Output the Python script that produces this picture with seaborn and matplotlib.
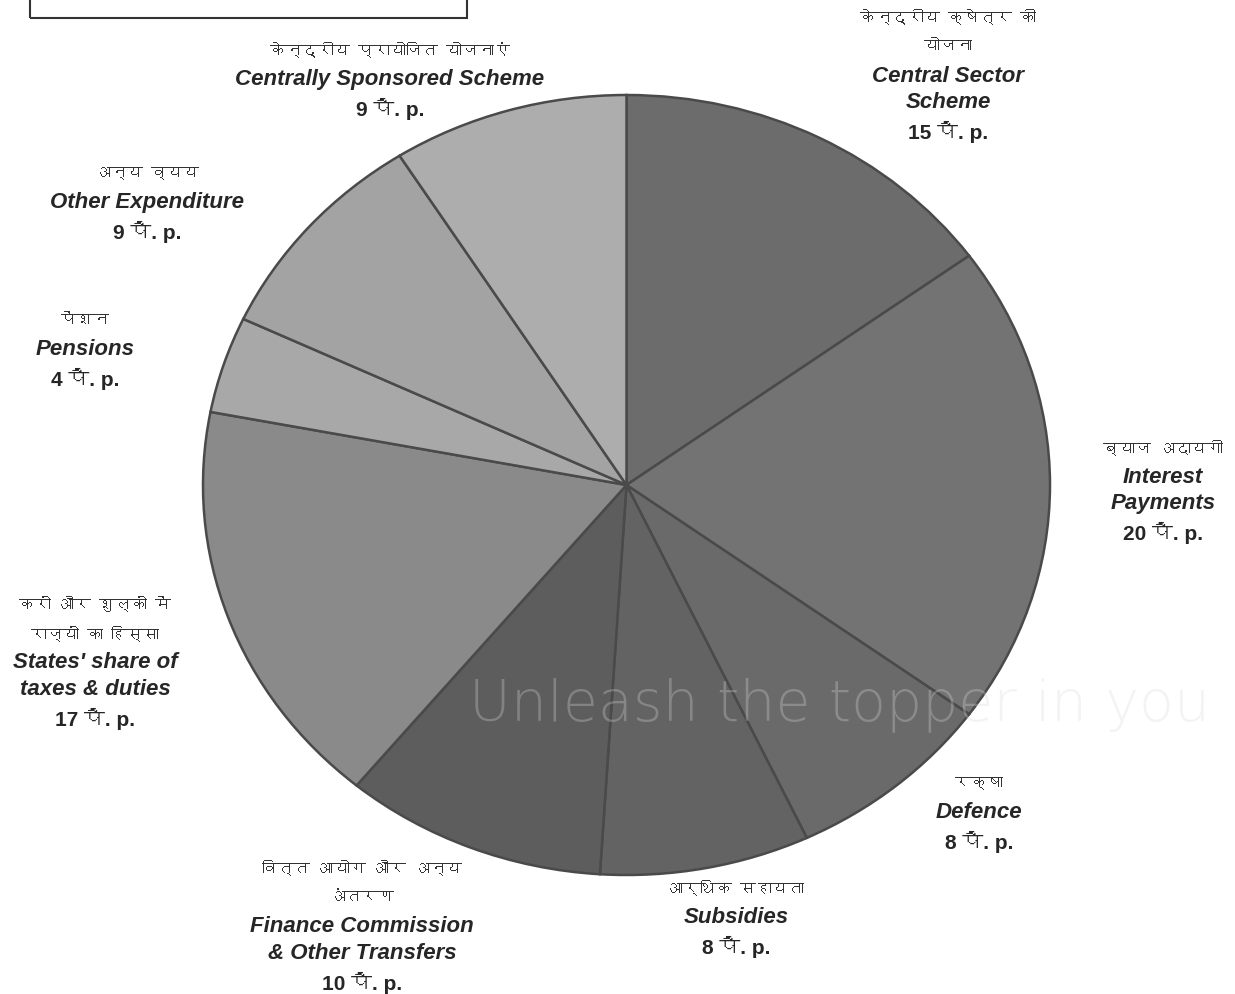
import matplotlib
matplotlib.use("Agg")
import matplotlib.pyplot as plt
import seaborn as sns
from matplotlib import font_manager as fm
from matplotlib.ft2font import FT2Font
from matplotlib.patches import Rectangle

# ---- data ----
hindi_labels = [
    "केन्द्रीय क्षेत्र की\nयोजना",
    "ब्याज अदायगी",
    "रक्षा",
    "आर्थिक सहायता",
    "वित्त आयोग और अन्य\nअंतरण",
    "करों और शुल्कों में\nराज्यों का हिस्सा",
    "पेंशन",
    "अन्य व्यय",
    "केन्द्रीय प्रायोजित योजनाएं",
]
english_labels = [
    "Central Sector\nScheme",
    "Interest\nPayments",
    "Defence",
    "Subsidies",
    "Finance Commission\n& Other Transfers",
    "States' share of\ntaxes & duties",
    "Pensions",
    "Other Expenditure",
    "Centrally Sponsored Scheme",
]
values = [15, 20, 8, 8, 10, 17, 4, 9, 9]
unit = "पै. p."

# ---- style ----
slice_colors = ["#6c6c6c", "#737373", "#6a6a6a", "#636363", "#5d5d5d",
                "#8a8a8a", "#a8a8a8", "#a3a3a3", "#adadad"]
# label anchor (pixel x, y of top line centre)
label_pos = [(948, 17), (1163, 448), (979, 783),
             (736, 888), (362, 868), (95, 604),
             (85, 320), (147, 173), (390, 50)]

sns.set_theme(style="white")

deva = None
for f in fm.fontManager.ttflist:
    try:
        if 0x0915 in FT2Font(f.fname).get_charmap():
            deva = f.name
            break
    except Exception:
        pass
lat = "Liberation Sans"
fam_h = [deva, lat] if deva else [lat, "DejaVu Sans"]
fam_l = [lat, deva] if deva else [lat, "DejaVu Sans"]
plt.rcParams["font.family"] = fam_l

W, H = 1235, 994
fig = plt.figure(figsize=(W / 100, H / 100), dpi=100)
fig.patch.set_facecolor("white")

ax = fig.add_axes([203 / W, 1 - 875 / H, 847 / W, 780 / H])
ax.pie(values, colors=slice_colors, startangle=90, counterclock=False,
       wedgeprops=dict(edgecolor="#4a4a4a", linewidth=1.8))
ax.set_aspect("auto")
ax.set_xlim(-1.0, 1.0)
ax.set_ylim(-1.0, 1.0)
ax.axis("off")

# top-left clipped box
fig.patches.append(Rectangle((30 / W, 1 - 18 / H), 437 / W, 40 / H,
                             transform=fig.transFigure, fill=False,
                             edgecolor="#333333", linewidth=1.5))

for hi, en, v, (px, top) in zip(hindi_labels, english_labels, values, label_pos):
    fx = px / W
    y = top
    for ln in hi.split("\n"):
        fig.text(fx, 1 - y / H, ln, ha="center", va="center", fontsize=11.5,
                 style="italic", weight="bold", color="#333333", family=fam_h)
        y += 29.5
    for ln in en.split("\n"):
        fig.text(fx, 1 - y / H, ln, ha="center", va="center", fontsize=16,
                 style="italic", weight="bold", color="#262626", family=fam_l)
        y += 26.5
    y += 2.5
    fig.text(fx, 1 - y / H, f"{v} {unit}", ha="center", va="center",
             fontsize=15, weight="bold", color="#262626", family=fam_l)

# faint watermark
fig.text(840 / W, 1 - 705 / H, "Unleash the topper in you", ha="center",
         va="center", fontsize=41, color="#d8d8d8", alpha=0.3,
         family="DejaVu Sans", weight="light")

fig.savefig("out.png", dpi=100, facecolor="white")
